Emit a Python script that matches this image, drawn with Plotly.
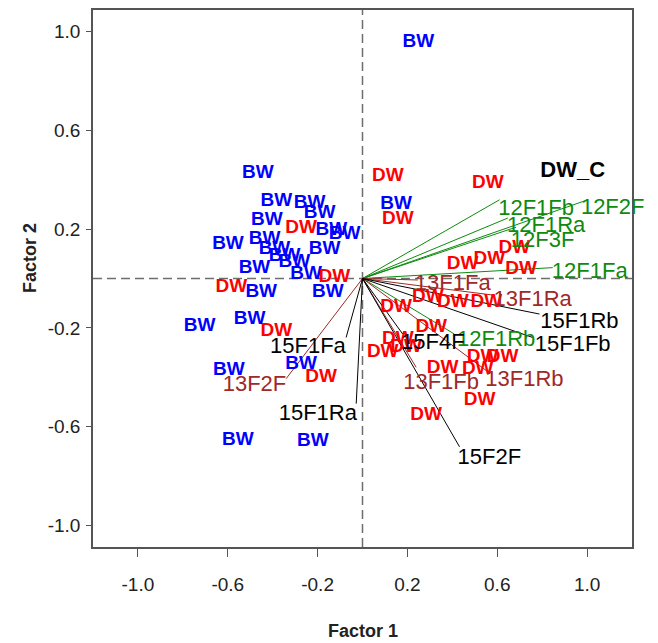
import plotly.graph_objects as go

# ---- observations (scores) ----
bw_x = [0.249, -0.466, -0.384, -0.236, -0.191, -0.426, -0.139, -0.080, -0.599, -0.436,
        -0.392, -0.347, -0.303, -0.169, -0.251, -0.481, -0.451, -0.154, -0.725, -0.503,
        -0.273, -0.595, -0.555, -0.221, 0.150]
bw_y = [0.958, 0.427, 0.312, 0.306, 0.265, 0.235, 0.194, 0.178, 0.138, 0.158,
        0.118, 0.091, 0.064, 0.118, 0.019, 0.041, -0.057, -0.057, -0.192, -0.165,
        -0.346, -0.373, -0.655, -0.658, 0.299]

dw_x = [-0.273, -0.125, -0.584, -0.384, -0.184, 0.113, 0.157, 0.558, 0.676, 0.446,
        0.565, 0.706, 0.150, 0.291, 0.402, 0.551, 0.306, 0.157, 0.090, 0.194,
        0.535, 0.624, 0.357, 0.513, 0.521, 0.283]
dw_y = [0.205, 0.006, -0.037, -0.212, -0.402, 0.413, 0.239, 0.386, 0.124, 0.057,
        0.077, 0.037, -0.118, -0.077, -0.098, -0.098, -0.198, -0.245, -0.299, -0.279,
        -0.319, -0.319, -0.362, -0.366, -0.494, -0.554]

dwc_x = [0.936]
dwc_y = [0.433]

# ---- variable loadings (arrow tips) and label positions ----
g_names = ["12F1Fb", "12F2F", "12F1Ra", "12F3F", "12F1Fa", "12F1Rb"]
g_end_x = [0.610, 1.003, 0.647, 0.684, 0.847, 0.409]
g_end_y = [0.319, 0.319, 0.245, 0.208, 0.044, -0.225]
g_lab_x = [0.773, 1.114, 0.818, 0.802, 1.012, 0.595]
g_lab_y = [0.279, 0.285, 0.212, 0.151, 0.026, -0.252]

r_names = ["13F1Fa", "13F1Ra", "13F1Rb", "13F1Fb", "13F2F"]
r_end_x = [0.246, 0.579, 0.551, 0.239, -0.340]
r_end_y = [-0.006, -0.067, -0.373, -0.360, -0.406]
r_lab_x = [0.402, 0.758, 0.721, 0.350, -0.481]
r_lab_y = [-0.023, -0.091, -0.413, -0.427, -0.433]

k_names = ["15F1Rb", "15F1Fb", "15F4F", "15F2F", "15F1Fa", "15F1Ra"]
k_end_x = [0.788, 0.758, 0.179, 0.432, -0.073, -0.028]
k_end_y = [-0.144, -0.239, -0.225, -0.682, -0.239, -0.507]
k_lab_x = [0.966, 0.936, 0.313, 0.565, -0.243, -0.199]
k_lab_y = [-0.178, -0.272, -0.265, -0.729, -0.279, -0.550]

x_ticks = [-1.0, -0.6, -0.2, 0.2, 0.6, 1.0]
y_ticks = [-1.0, -0.6, -0.2, 0.2, 0.6, 1.0]

BLUE = "#0000FF"
RED = "#FF0000"
GREEN = "#0E8A0E"
BROWN = "#A02828"
BLACK = "#000000"

FONT = "Liberation Sans, Arial, sans-serif"

fig = go.Figure()


def segs(xs, ys):
    lx, ly = [], []
    for a, b in zip(xs, ys):
        lx += [0, a, None]
        ly += [0, b, None]
    return lx, ly


for ex, ey, col in [(g_end_x, g_end_y, GREEN), (r_end_x, r_end_y, BROWN), (k_end_x, k_end_y, BLACK)]:
    lx, ly = segs(ex, ey)
    fig.add_trace(go.Scatter(x=lx, y=ly, mode="lines", line=dict(color=col, width=1),
                             hoverinfo="skip", showlegend=False))

obs_font = dict(family=FONT, size=19, weight="bold")
fig.add_trace(go.Scatter(x=bw_x, y=bw_y, mode="text", text=["BW"] * len(bw_x),
                         textposition="middle center", cliponaxis=False,
                         textfont=dict(**obs_font, color=BLUE), showlegend=False))
fig.add_trace(go.Scatter(x=dw_x, y=dw_y, mode="text", text=["DW"] * len(dw_x),
                         textposition="middle center", cliponaxis=False,
                         textfont=dict(**obs_font, color=RED), showlegend=False))

var_font = dict(family=FONT, size=22)
for lx, ly, names, col in [(g_lab_x, g_lab_y, g_names, GREEN),
                           (r_lab_x, r_lab_y, r_names, BROWN),
                           (k_lab_x, k_lab_y, k_names, BLACK)]:
    fig.add_trace(go.Scatter(x=lx, y=ly, mode="text", text=names,
                             textposition="middle center", cliponaxis=False,
                             textfont=dict(**var_font, color=col), showlegend=False))

fig.add_trace(go.Scatter(x=dwc_x, y=dwc_y, mode="text", text=["DW_C"],
                         textposition="middle center", cliponaxis=False,
                         textfont=dict(family=FONT, size=22, weight="bold", color=BLACK),
                         showlegend=False))

# dashed reference lines through the origin
fig.add_shape(type="line", xref="paper", yref="y", x0=0, x1=1, y0=0, y1=0,
              line=dict(color="#6E6E6E", width=1.5, dash="9px,5px"), layer="below")
fig.add_shape(type="line", xref="x", yref="paper", x0=0, x1=0, y0=0, y1=1,
              line=dict(color="#6E6E6E", width=1.5, dash="9px,5px"), layer="below")

tick_font = dict(family=FONT, size=19, color="#222222")
fig.update_xaxes(range=[-1.2, 1.2], tickvals=x_ticks, ticktext=[f"{v:.1f}" for v in x_ticks],
                 showgrid=False, zeroline=False, showline=True, mirror=True,
                 linecolor="#555555", linewidth=1.5, ticks="outside", ticklen=8,
                 tickcolor="#555555", tickfont=tick_font, ticklabelstandoff=11)
fig.update_yaxes(range=[-1.088, 1.088], tickvals=y_ticks, ticktext=[f"{v:.1f}" for v in y_ticks],
                 showgrid=False, zeroline=False, showline=True, mirror=True,
                 linecolor="#555555", linewidth=1.5, ticks="outside", ticklen=5,
                 tickcolor="#555555", tickfont=tick_font, ticklabelstandoff=2)

title_font = dict(family=FONT, size=18, weight="bold", color="#222222")
fig.add_annotation(text="Factor 1", xref="paper", yref="paper", x=0.5, y=0,
                   yshift=-84, yanchor="middle", showarrow=False, font=title_font)
fig.add_annotation(text="Factor 2", xref="paper", yref="paper", x=0, y=0.538,
                   xshift=-63, xanchor="center", textangle=-90, showarrow=False, font=title_font)

fig.update_layout(width=658, height=643, plot_bgcolor="white", paper_bgcolor="white",
                  margin=dict(l=93, r=26, t=8, b=96), showlegend=False)

fig.write_html("out.html", config={"displayModeBar": False},
               post_script="document.body.style.margin='0px';")
